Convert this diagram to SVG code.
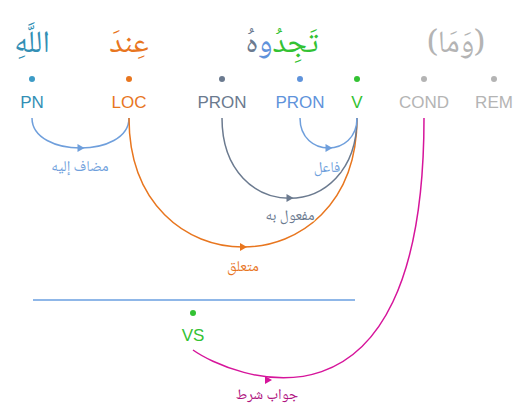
<svg xmlns="http://www.w3.org/2000/svg" width="514" height="410" viewBox="0 0 514 410">
<style>
.pos{font-family:"Liberation Sans",Arial,sans-serif;font-size:17px;text-anchor:middle}
.ar{font-family:"Noto Naskh Arabic","Noto Sans Arabic","DejaVu Sans",sans-serif;font-size:31px;text-anchor:middle;direction:rtl}
.lbl{font-family:"Noto Naskh Arabic","Noto Sans Arabic","DejaVu Sans",sans-serif;font-size:15px;text-anchor:middle;direction:rtl;paint-order:stroke;stroke:#fff;stroke-opacity:0.7;stroke-width:3px}
.arc{fill:none;stroke-width:1.5}
</style>
<defs>
<path id="ah" d="M-3,-4 L4,0 L-3,4 Z"/>
</defs>
<rect width="514" height="410" fill="#fff"/>
<g id="n-pn">
<text class="ar" x="32" y="52" fill="#338fb5">اللَّهِ</text>
<circle cx="32" cy="79" r="3" fill="#3d9bc6"/>
<text class="pos" x="32" y="108" fill="#338fb5">PN</text>
</g>
<g id="n-loc">
<text class="ar" x="129" y="52" fill="#e8761f">عِندَ</text>
<circle cx="129" cy="79" r="3" fill="#e8761f"/>
<text class="pos" x="129" y="108" fill="#e8761f">LOC</text>
</g>
<g id="n-word">
<text class="ar" x="282" y="52"><tspan fill="#33c233">تَجِدُ</tspan><tspan fill="#5f93db">و</tspan><tspan fill="#6b7a8f">هُ</tspan></text>
</g>
<g id="n-pron1">
<circle cx="222" cy="79" r="3" fill="#6b7a8f"/>
<text class="pos" x="222" y="108" fill="#6b7a8f">PRON</text>
</g>
<g id="n-pron2">
<circle cx="300" cy="79" r="3" fill="#5f93db"/>
<text class="pos" x="300" y="108" fill="#5f93db">PRON</text>
</g>
<g id="n-v">
<circle cx="357" cy="79" r="3" fill="#33c233"/>
<text class="pos" x="357" y="108" fill="#33c233">V</text>
</g>
<g id="n-cond">
<text class="ar" x="456" y="52" fill="#b4b4b4">(وَمَا)</text>
<circle cx="424" cy="79" r="3" fill="#b4b4b4"/>
<text class="pos" x="424" y="108" fill="#b4b4b4">COND</text>
</g>
<g id="n-rem">
<circle cx="494" cy="79" r="3" fill="#b4b4b4"/>
<text class="pos" x="494" y="108" fill="#b4b4b4">REM</text>
</g>
<g id="n-vs">
<line x1="33" y1="300" x2="355" y2="300" stroke="#6a9fe0" stroke-width="1.5"/>
<circle cx="193" cy="313" r="3" fill="#33c233"/>
<text class="pos" x="193" y="341" fill="#33c233">VS</text>
</g>
<g id="connectors">
<path class="arc" stroke="#6f9fdc" d="M32,118 C32,158 129,158 129,118"/>
<use href="#ah" x="80.5" y="148" fill="#6f9fdc"/>
<path class="arc" stroke="#e8761f" d="M129,118 C129,290 357,290 357,118"/>
<use href="#ah" x="243" y="247" fill="#e8761f"/>
<path class="arc" stroke="#6b7a8f" d="M222,118 C222,225 357,225 357,118"/>
<use href="#ah" x="289.5" y="198" fill="#6b7a8f"/>
<path class="arc" stroke="#6f9fdc" d="M300,118 C300,158 357,158 357,118"/>
<use href="#ah" x="328.5" y="148" fill="#6f9fdc"/>
<path class="arc" stroke="#d6159b" d="M193,350 C228,375 424,460 424,118"/>
<use href="#ah" x="268" y="380" fill="#d6159b"/>
<text class="lbl" x="80" y="171" fill="#6f9fdc">مضاف إليه</text>
<text class="lbl" x="327" y="172" fill="#6f9fdc">فاعل</text>
<text class="lbl" x="290" y="220" fill="#6b7a8f">مفعول به</text>
<text class="lbl" x="243" y="271" fill="#e8761f">متعلق</text>
<text class="lbl" x="267" y="399" fill="#b0147f">جواب شرط</text>
</g>
</svg>
